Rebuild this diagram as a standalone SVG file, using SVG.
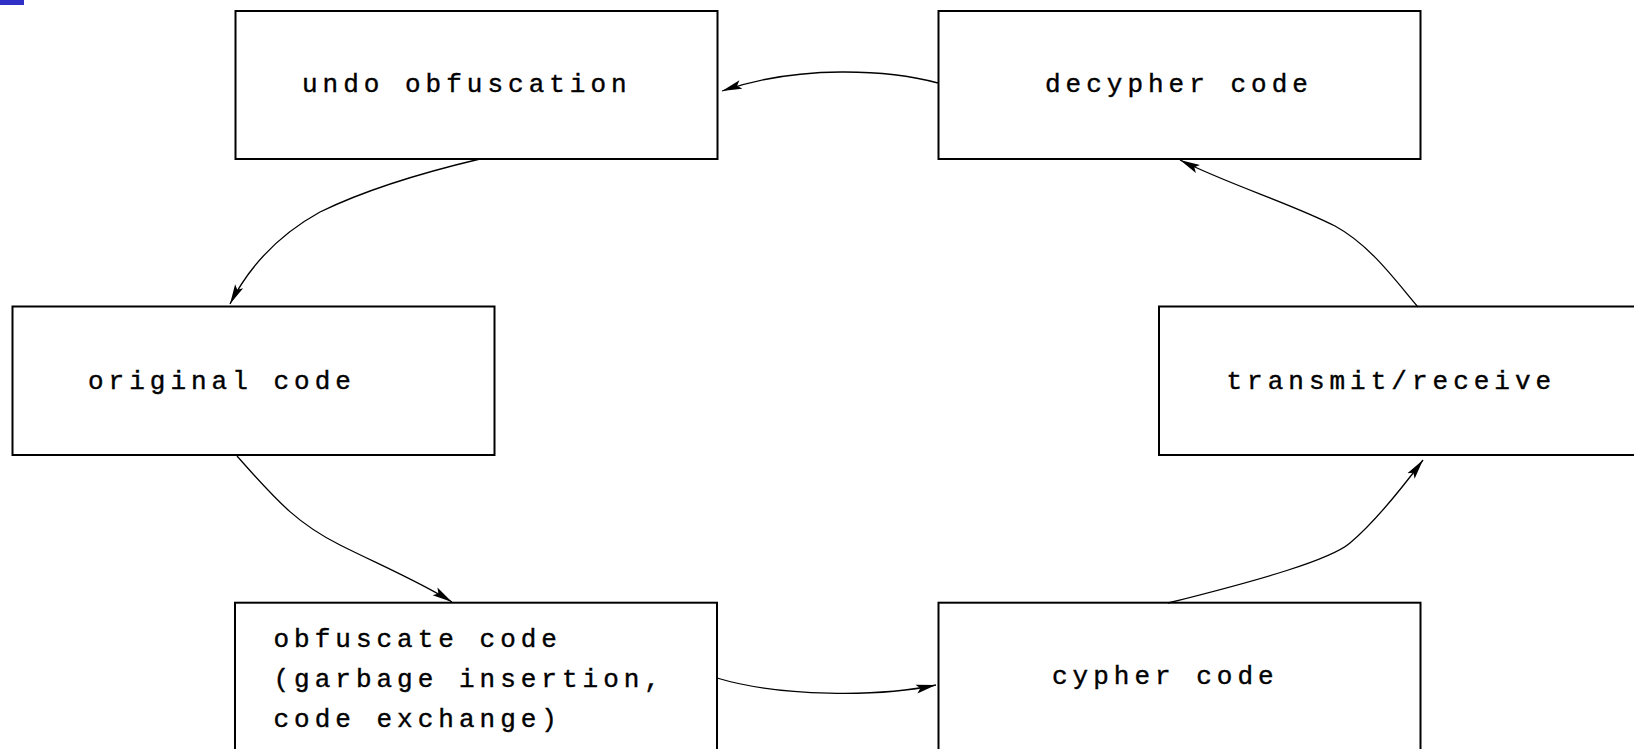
<svg xmlns="http://www.w3.org/2000/svg" width="1634" height="749" viewBox="0 0 1634 749">
  <style>
    .box { fill: #ffffff; stroke: #000000; stroke-width: 2; }
    .lbl { font-family: "Liberation Mono", "DejaVu Sans Mono", monospace; font-size: 26px; letter-spacing: 5px; fill: #000000; stroke: #000000; stroke-width: 0.4; }
    .edge { fill: none; stroke: #000000; stroke-width: 1.3; marker-end: url(#arrow); }
  </style>
  <defs>
    <marker id="arrow" viewBox="0 0 20 10" refX="20" refY="5" markerWidth="20" markerHeight="10" markerUnits="userSpaceOnUse" orient="auto">
      <path d="M0,0.5 L20,5 L0,9.5 L4,5 Z" fill="#000000"/>
    </marker>
  </defs>
  <rect width="1634" height="749" fill="#ffffff"/>
  <rect x="0" y="0" width="24" height="5" fill="#3030c8"/>

  <g id="undo-obfuscation">
    <rect class="box" x="235.5" y="11" width="482" height="148"/>
    <text class="lbl" x="302" y="92">undo obfuscation</text>
  </g>
  <g id="decypher-code">
    <rect class="box" x="938.5" y="11" width="482" height="148"/>
    <text class="lbl" x="1045" y="92">decypher code</text>
  </g>
  <g id="original-code">
    <rect class="box" x="12.5" y="306.5" width="482" height="148.5"/>
    <text class="lbl" x="88" y="388.5">original code</text>
  </g>
  <g id="transmit-receive">
    <rect class="box" x="1159" y="306.5" width="482" height="148.5"/>
    <text class="lbl" x="1226.5" y="388.5">transmit/receive</text>
  </g>
  <g id="obfuscate-code">
    <rect class="box" x="235" y="602.7" width="482" height="148"/>
    <text class="lbl" x="273.5" y="647.3">obfuscate code</text>
    <text class="lbl" x="273.5" y="686.7">(garbage insertion,</text>
    <text class="lbl" x="273.5" y="726.5">code exchange)</text>
  </g>
  <g id="cypher-code">
    <rect class="box" x="938.5" y="602.7" width="482" height="148"/>
    <text class="lbl" x="1052" y="684.3">cypher code</text>
  </g>

  <g id="connectors">
    <path class="edge" d="M480,159 C425,172 365,190 320,212 C280,234 250,265 230,304"/>
    <path class="edge" d="M237,456 C280,505 300,525 340,545 C380,565 420,582 452,602"/>
    <path class="edge" d="M717,678 C780,697 880,697 936,685"/>
    <path class="edge" d="M1168,603 C1260,580 1330,560 1350,543 C1375,522 1405,484 1423,460"/>
    <path class="edge" d="M1418,307 C1395,280 1370,245 1335,226 C1290,203 1230,185 1180,160"/>
    <path class="edge" d="M938,83 C890,70 800,64 722,91"/>
  </g>
</svg>
